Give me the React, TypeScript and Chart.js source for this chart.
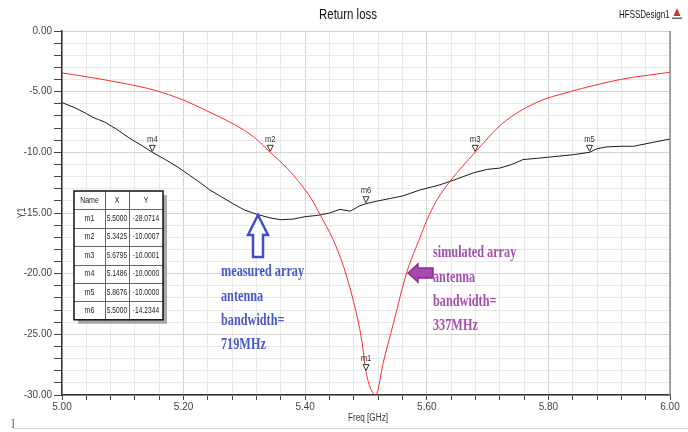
import React, { useEffect, useRef } from "react";
import { Chart, registerables } from "chart.js";
Chart.register(...registerables);

// ---- data ----
const simFreq = [5.0, 5.05, 5.1, 5.15, 5.2, 5.235, 5.26, 5.285, 5.3, 5.317, 5.3425, 5.37, 5.4, 5.411, 5.424, 5.446, 5.463, 5.479, 5.493, 5.5, 5.507, 5.516, 5.528, 5.545, 5.567, 5.589, 5.6, 5.617, 5.638, 5.6795, 5.725, 5.78, 5.836, 5.918, 6.0];
const simS11 = [-3.45, -3.85, -4.3, -4.85, -5.7, -6.5, -7.1, -7.75, -8.2, -8.8, -10.0, -11.3, -13.1, -13.9, -15.1, -17.2, -19.4, -22.2, -25.5, -28.07, -29.4, -30.0, -27.4, -24.1, -19.9, -17.0, -15.6, -13.9, -12.4, -10.0, -7.6, -5.9, -5.0, -4.0, -3.4];

const measFreq = [5.0, 5.02, 5.04, 5.05, 5.06, 5.07, 5.09, 5.11, 5.13, 5.1486, 5.17, 5.19, 5.21, 5.23, 5.243, 5.26, 5.28, 5.3, 5.32, 5.342, 5.36, 5.38, 5.4, 5.42, 5.44, 5.457, 5.474, 5.49, 5.5, 5.52, 5.54, 5.56, 5.589, 5.62, 5.638, 5.66, 5.676, 5.7, 5.72, 5.74, 5.758, 5.78, 5.8, 5.84, 5.8676, 5.88, 5.896, 5.92, 5.94, 5.97, 6.0];
const measS11 = [-5.9, -6.3, -6.8, -7.1, -7.3, -7.5, -8.1, -8.8, -9.4, -10.0, -10.6, -11.2, -11.9, -12.6, -13.1, -13.6, -14.2, -14.75, -15.1, -15.4, -15.55, -15.5, -15.3, -15.2, -15.0, -14.7, -14.85, -14.4, -14.23, -14.0, -13.8, -13.6, -13.1, -12.7, -12.4, -12.0, -11.7, -11.4, -11.3, -11.0, -10.6, -10.5, -10.4, -10.2, -10.0, -9.7, -9.55, -9.5, -9.5, -9.2, -8.9];

const markerNames = ["m1", "m2", "m3", "m4", "m5", "m6"];
const markerX = [5.5, 5.3425, 5.6795, 5.1486, 5.8676, 5.5];
const markerY = [-28.0714, -10.0007, -10.0001, -10.0, -10.0, -14.2344];

const xMin = 5.0, xMax = 6.0, xStep = 0.04, xLabelStep = 0.2;
const yMin = -30, yMax = 0, yStep = 1, yLabelStep = 5;

const titleText = "Return loss";
const designText = "HFSSDesign1";
const xTitle = "Freq [GHz]";
const yTitle = "Y1";
const measuredNote = ["measured array", "antenna", "bandwidth=", "719MHz"];
const simulatedNote = ["simulated array", "antenna", "bandwidth=", "337MHz"];

const SANS = "'Liberation Sans', Arial, sans-serif";
const SERIF = "'Liberation Serif', 'Times New Roman', serif";

const isMult = (v: number, s: number) => Math.abs(v / s - Math.round(v / s)) < 1e-6;

function narrowText(ctx: CanvasRenderingContext2D, text: string, x: number, y: number, font: string, align: CanvasTextAlign, sx = 0.8) {
  ctx.save();
  ctx.font = font;
  ctx.textAlign = align;
  ctx.textBaseline = "middle";
  ctx.translate(x, y);
  ctx.scale(sx, 1);
  ctx.fillText(text, 0, 0);
  ctx.restore();
}

const overlay = {
  id: "overlay",
  afterDraw(chart: any) {
    const ctx = chart.ctx as CanvasRenderingContext2D;
    const { right, top, bottom } = chart.chartArea;
    const xs = chart.scales.x, ys = chart.scales.y;
    ctx.save();

    // right border
    ctx.strokeStyle = "#8a8a8a";
    ctx.lineWidth = 1.5;
    ctx.beginPath();
    ctx.moveTo(right, top);
    ctx.lineTo(right, bottom);
    ctx.stroke();

    // title
    ctx.fillStyle = "#111";
    narrowText(ctx, titleText, 348, 15, `14px ${SANS}`, "center", 0.82);
    narrowText(ctx, designText, 619, 15, `10.5px ${SANS}`, "left", 0.76);
    // logo
    ctx.fillStyle = "#c0392b";
    ctx.beginPath();
    ctx.moveTo(677, 8);
    ctx.lineTo(680.5, 16);
    ctx.lineTo(673.5, 16);
    ctx.closePath();
    ctx.fill();
    ctx.fillStyle = "#666";
    ctx.fillRect(672, 17.5, 10, 1.5);

    // axis titles
    ctx.fillStyle = "#333";
    narrowText(ctx, xTitle, 368, 418, `10px ${SANS}`, "center", 0.82);
    ctx.save();
    ctx.translate(22, 213);
    ctx.rotate(-Math.PI / 2);
    narrowText(ctx, yTitle, 0, 0, `10px ${SANS}`, "center", 0.85);
    ctx.restore();

    // bottom line and stray char
    ctx.strokeStyle = "#d0d0d0";
    ctx.lineWidth = 1;
    ctx.beginPath();
    ctx.moveTo(14, 428.5);
    ctx.lineTo(688, 428.5);
    ctx.stroke();
    ctx.fillStyle = "#333";
    ctx.font = `10px ${SERIF}`;
    ctx.textAlign = "left";
    ctx.textBaseline = "middle";
    ctx.fillText("]", 11, 423);

    // markers
    markerNames.forEach((n, i) => {
      const px = xs.getPixelForValue(markerX[i]);
      const py = ys.getPixelForValue(markerY[i]);
      ctx.beginPath();
      ctx.moveTo(px, py - 1);
      ctx.lineTo(px - 3, py - 7);
      ctx.lineTo(px + 3, py - 7);
      ctx.closePath();
      ctx.fillStyle = "#fff";
      ctx.fill();
      ctx.strokeStyle = "#333";
      ctx.lineWidth = 1;
      ctx.stroke();
      ctx.fillStyle = "#333";
      narrowText(ctx, n, px, py - 13, `9px ${SANS}`, "center", 0.85);
    });

    // table
    const tx = 74, ty = 191, cw = [31, 24, 34], rh = 18.4;
    const tw = cw[0] + cw[1] + cw[2], th = rh * 7;
    ctx.fillStyle = "#a8a8a8";
    ctx.fillRect(tx + 4, ty + 4, tw, th);
    ctx.fillStyle = "#fff";
    ctx.fillRect(tx, ty, tw, th);
    ctx.strokeStyle = "#666";
    ctx.lineWidth = 1;
    for (let r = 1; r < 7; r++) {
      ctx.beginPath();
      ctx.moveTo(tx, Math.round(ty + r * rh) + 0.5);
      ctx.lineTo(tx + tw, Math.round(ty + r * rh) + 0.5);
      ctx.stroke();
    }
    let cx = tx;
    for (let c = 0; c < 2; c++) {
      cx += cw[c];
      ctx.beginPath();
      ctx.moveTo(cx + 0.5, ty);
      ctx.lineTo(cx + 0.5, ty + th);
      ctx.stroke();
    }
    ctx.strokeStyle = "#111";
    ctx.lineWidth = 1.5;
    ctx.strokeRect(tx, ty, tw, th);
    ctx.fillStyle = "#222";
    const tf = `9px ${SANS}`;
    const c0 = tx + cw[0] / 2, c1 = tx + cw[0] + cw[1] / 2, c2 = tx + cw[0] + cw[1] + cw[2] / 2;
    narrowText(ctx, "Name", c0, ty + rh / 2, tf, "center", 0.78);
    narrowText(ctx, "X", c1, ty + rh / 2, tf, "center", 0.78);
    narrowText(ctx, "Y", c2, ty + rh / 2, tf, "center", 0.78);
    markerNames.forEach((n, i) => {
      const yy = ty + rh * (i + 1) + rh / 2;
      narrowText(ctx, n, c0, yy, tf, "center", 0.78);
      narrowText(ctx, markerX[i].toFixed(4), c1, yy, tf, "center", 0.74);
      narrowText(ctx, markerY[i].toFixed(4), c2, yy, tf, "center", 0.74);
    });

    // blue arrow (up)
    ctx.beginPath();
    ctx.moveTo(258, 215);
    ctx.lineTo(268, 235);
    ctx.lineTo(263, 235);
    ctx.lineTo(263, 257);
    ctx.lineTo(253, 257);
    ctx.lineTo(253, 235);
    ctx.lineTo(248, 235);
    ctx.closePath();
    ctx.fillStyle = "#ffffff";
    ctx.fill();
    ctx.strokeStyle = "#3f4fc6";
    ctx.lineWidth = 2.5;
    ctx.lineJoin = "miter";
    ctx.stroke();

    // purple arrow (left)
    ctx.beginPath();
    ctx.moveTo(408, 273);
    ctx.lineTo(418, 264);
    ctx.lineTo(418, 268);
    ctx.lineTo(433, 268);
    ctx.lineTo(433, 278);
    ctx.lineTo(418, 278);
    ctx.lineTo(418, 282);
    ctx.closePath();
    ctx.fillStyle = "#a64aab";
    ctx.fill();
    ctx.strokeStyle = "#8a2f8f";
    ctx.lineWidth = 1.5;
    ctx.stroke();

    // notes
    const drawNote = (lines: string[], x0: number, y0: number, color: string) => {
      ctx.fillStyle = color;
      lines.forEach((l, i) => narrowText(ctx, l, x0, y0 + i * 24.3, `bold 17px ${SERIF}`, "left", 0.72));
    };
    drawNote(measuredNote, 221, 272, "#4957c9");
    drawNote(simulatedNote, 433, 253, "#a54dab");

    ctx.restore();
  },
};

export default function App() {
  const ref = useRef<HTMLCanvasElement>(null);
  useEffect(() => {
    document.body.style.margin = "0";
    const canvas = ref.current!;
    const chart = new Chart(canvas, {
      type: "line",
      data: {
        datasets: [
          {
            label: "simulated",
            data: simFreq.map((f, i) => ({ x: f, y: simS11[i] })),
            borderColor: "#ff2a2a",
            borderWidth: 1,
            pointRadius: 0,
            cubicInterpolationMode: "monotone",
            fill: false,
          },
          {
            label: "measured",
            data: measFreq.map((f, i) => ({ x: f, y: measS11[i] })),
            borderColor: "#1a1a1a",
            borderWidth: 1,
            pointRadius: 0,
            tension: 0,
            fill: false,
          },
        ],
      },
      options: {
        animation: false,
        responsive: false,
        maintainAspectRatio: false,
        layout: { padding: { left: 0, right: 18, top: 31, bottom: 0 } },
        plugins: { legend: { display: false }, title: { display: false }, tooltip: { enabled: false } },
        scales: {
          x: {
            type: "linear",
            min: xMin,
            max: xMax,
            afterFit: (s: any) => { s.height = 37; },
            ticks: {
              stepSize: xStep,
              autoSkip: false,
              maxRotation: 0,
              padding: 1,
              color: "#444",
              font: { family: SANS, size: 10 },
              callback: (v: any) => (isMult(Number(v), xLabelStep) ? Number(v).toFixed(2) : ""),
            },
            grid: {
              color: (c: any) => (c.tick && isMult(c.tick.value, xLabelStep) ? "#d2d2d2" : "#e8e8e8"),
              tickColor: "#444",
              tickLength: 5,
              drawTicks: true,
            },
            border: { display: true, color: "#333", width: 1.5 },
          },
          y: {
            min: yMin,
            max: yMax,
            afterFit: (s: any) => { s.width = 62; },
            ticks: {
              stepSize: yStep,
              autoSkip: false,
              padding: 2,
              color: "#444",
              font: { family: SANS, size: 10 },
              callback: (v: any) => (isMult(Number(v), yLabelStep) ? Number(v).toFixed(2) : ""),
            },
            grid: {
              color: (c: any) => (c.tick && isMult(c.tick.value, yLabelStep) ? "#d2d2d2" : "#e8e8e8"),
              tickColor: "#444",
              tickLength: 8,
              drawTicks: true,
            },
            border: { display: true, color: "#333", width: 1.5 },
          },
        },
      },
      plugins: [overlay],
    });
    return () => chart.destroy();
  }, []);
  return <canvas ref={ref} width={688} height={432} style={{ display: "block" }} />;
}
